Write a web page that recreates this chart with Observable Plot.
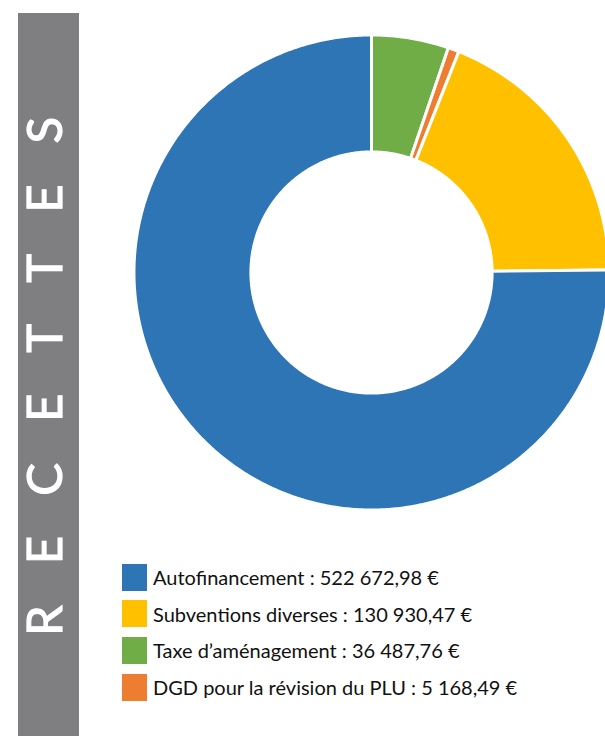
<!DOCTYPE html>
<html><head><meta charset="utf-8">
<script src="https://cdn.jsdelivr.net/npm/d3@7"></script>
<script src="https://cdn.jsdelivr.net/npm/@observablehq/plot@0.6"></script>
<style>
html,body{margin:0;padding:0;background:#fff;overflow:hidden;}
#wrap{position:relative;width:605px;height:736px;font-family:Lato,"Open Sans",sans-serif;}
#band{position:absolute;left:18px;top:13px;width:61px;height:723px;background:#7f7f81;}
#title{position:absolute;color:#fff;font-size:49px;font-weight:400;-webkit-text-stroke:1.2px #fff;white-space:nowrap;text-align:center;transform:rotate(-90deg);transform-origin:50% 50%;}
#chart{position:absolute;left:0;top:0;}
.row{position:absolute;left:122px;height:28px;display:flex;align-items:center;font-size:20px;color:#111;white-space:nowrap;}
.sw{width:25px;height:27px;margin-right:6px;flex:none;}
</style></head>
<body>
<div id="wrap">
  <div id="band"></div>
  <div id="title">RECETTES</div>
  <div id="chart"></div>
  <div id="legend"></div>
</div>
<script>
const title = "RECETTES";
const categories = ["Taxe d’aménagement", "DGD pour la révision du PLU", "Subventions diverses", "Autofinancement"];
const values = [36487.76, 5168.49, 130930.47, 522672.98];
const colors = ["#70ad47", "#ed7d31", "#ffc000", "#2e75b6"];
const legendOrder = ["Autofinancement", "Subventions diverses", "Taxe d’aménagement", "DGD pour la révision du PLU"];

const data = categories.map((name, i) => ({name, value: values[i]}));
const arcs = d3.pie().sort(null).value(d => d.value)(data);
const rOut = 1.0065, rIn = 0.511;
const pts = [];
for (const a of arcs) {
  const n = Math.max(4, Math.ceil((a.endAngle - a.startAngle) / (Math.PI / 360)));
  const ring = [];
  for (let k = 0; k <= n; k++) {
    const t = a.startAngle + (a.endAngle - a.startAngle) * k / n;
    ring.push({name: a.data.name, x: rOut * Math.sin(t), y: rOut * Math.cos(t)});
  }
  for (let k = n; k >= 0; k--) {
    const t = a.startAngle + (a.endAngle - a.startAngle) * k / n;
    ring.push({name: a.data.name, x: rIn * Math.sin(t), y: rIn * Math.cos(t)});
  }
  ring.push({...ring[0]});
  pts.push(...ring);
}

const chart = Plot.plot({
  width: 605,
  height: 520,
  margin: 0,
  style: {background: "transparent", overflow: "visible"},
  x: {domain: [-1, 1], range: [135, 607], axis: null},
  y: {domain: [-1, 1], range: [508, 36], axis: null},
  color: {domain: categories, range: colors},
  marks: [
    Plot.line(pts, {x: "x", y: "y", z: "name", fill: "name", stroke: "white", strokeWidth: 3, strokeLinejoin: "round", curve: "linear"})
  ]
});
document.getElementById("chart").appendChild(chart);

// rotated title
const tEl = document.getElementById("title");
tEl.textContent = title;
const ls = 41;
tEl.style.letterSpacing = ls + "px";
tEl.style.paddingLeft = ls + "px";
tEl.style.lineHeight = "49px";
const w = tEl.offsetWidth, h = tEl.offsetHeight;
const cx = 43, cy = 376;
tEl.style.left = (cx - w / 2) + "px";
tEl.style.top = (cy - h / 2) + "px";

// legend
const loc = d3.formatLocale({decimal: ",", thousands: " ", grouping: [3]});
const fmt = loc.format(",.2f");
const lg = document.getElementById("legend");
legendOrder.forEach((name, i) => {
  const d = data.find(e => e.name === name);
  const row = document.createElement("div");
  row.className = "row";
  row.style.top = (563 + i * 36.7) + "px";
  const sw = document.createElement("span");
  sw.className = "sw";
  sw.style.background = colors[categories.indexOf(name)];
  const tx = document.createElement("span");
  tx.textContent = `${name} : ${fmt(d.value)} €`;
  row.appendChild(sw); row.appendChild(tx);
  lg.appendChild(row);
});
</script>
</body></html>
